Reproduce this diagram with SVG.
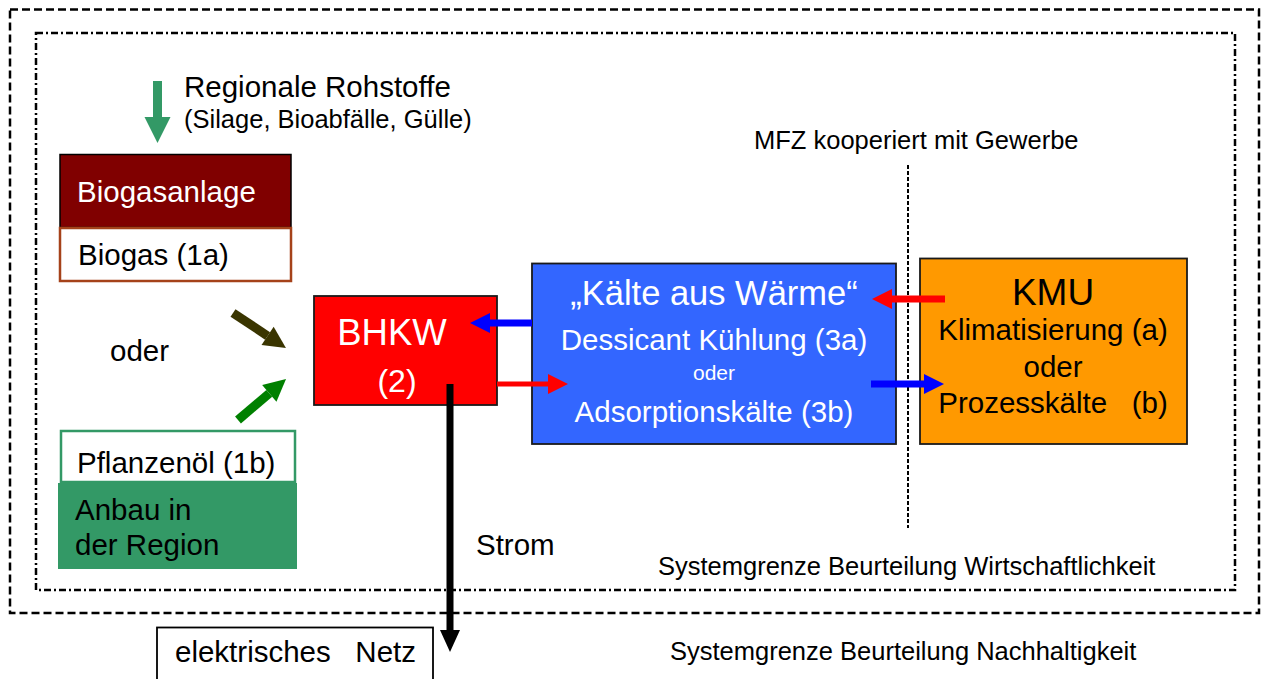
<svg xmlns="http://www.w3.org/2000/svg" width="1262" height="679" viewBox="0 0 1262 679">
  <style>
    text { font-family: "Liberation Sans", Arial, sans-serif; fill: #000; }
    .w { fill: #fff; }
    .t30 { font-size: 29.5px; }
    .t25 { font-size: 25.5px; }
    .mid { text-anchor: middle; }
    .frame { fill: none; stroke: #000; stroke-width: 2.5; }
    .box { stroke: #1a1a1a; stroke-width: 1.8; }
    .shaft { fill: none; stroke-linecap: butt; }
  </style>
  <defs>
    <marker id="head-blue" markerUnits="userSpaceOnUse" markerWidth="20" markerHeight="20" refX="0" refY="10" orient="auto" overflow="visible">
      <path d="M0,0 L20,10 L0,20 z" fill="#0000ff"/>
    </marker>
    <marker id="head-red" markerUnits="userSpaceOnUse" markerWidth="20" markerHeight="20" refX="0" refY="10" orient="auto" overflow="visible">
      <path d="M0,0 L20,10 L0,20 z" fill="#ff0000"/>
    </marker>
    <marker id="head-black" markerUnits="userSpaceOnUse" markerWidth="22" markerHeight="20" refX="0" refY="10" orient="auto" overflow="visible">
      <path d="M0,0 L22,10 L0,20 z" fill="#000"/>
    </marker>
    <marker id="head-olive" markerUnits="userSpaceOnUse" markerWidth="22" markerHeight="22" refX="0" refY="11" orient="auto" overflow="visible">
      <path d="M0,0 L22,11 L0,22 z" fill="#3a3500"/>
    </marker>
    <marker id="head-green" markerUnits="userSpaceOnUse" markerWidth="22" markerHeight="22" refX="0" refY="11" orient="auto" overflow="visible">
      <path d="M0,0 L22,11 L0,22 z" fill="#008000"/>
    </marker>
    <marker id="head-sea" markerUnits="userSpaceOnUse" markerWidth="26" markerHeight="26" refX="0" refY="13" orient="auto" overflow="visible">
      <path d="M0,0 L26,13 L0,26 z" fill="#339966"/>
    </marker>
  </defs>

  <rect width="1262" height="679" fill="#fff"/>

  <!-- system boundaries -->
  <g id="boundaries">
    <rect class="frame" x="10" y="9.5" width="1249" height="603.5" stroke-dasharray="8 4"/>
    <rect class="frame" x="36" y="33" width="1199" height="557" stroke-dasharray="7 3 2 3"/>
    <line x1="908" y1="165" x2="908" y2="528" stroke="#000" stroke-width="2" stroke-dasharray="4 2"/>
    <text class="t25" x="754" y="149">MFZ kooperiert mit Gewerbe</text>
    <text class="t25" x="658" y="575">Systemgrenze Beurteilung Wirtschaftlichkeit</text>
    <text class="t25" x="670" y="660">Systemgrenze Beurteilung Nachhaltigkeit</text>
  </g>

  <!-- raw materials -->
  <g id="rohstoffe">
    <text class="t30" x="184" y="97">Regionale Rohstoffe</text>
    <text class="t25" x="184" y="128">(Silage, Bioabfälle, Gülle)</text>
  </g>

  <g id="biogasanlage">
    <rect x="60" y="154.5" width="231" height="73" fill="#800000" stroke="#000" stroke-width="1.5"/>
    <text class="t30 w" x="77" y="202">Biogasanlage</text>
  </g>

  <g id="biogas">
    <rect x="60" y="228" width="231" height="53" fill="#fff" stroke="#a5421a" stroke-width="2.5"/>
    <text class="t30" x="78" y="265">Biogas (1a)</text>
  </g>

  <g id="oder-label">
    <text class="t30" x="110" y="361">oder</text>
  </g>

  <g id="pflanzenoel">
    <rect x="61" y="431" width="234" height="51" fill="#fff" stroke="#339966" stroke-width="2.5"/>
    <text class="t30" x="77" y="473">Pflanzenöl (1b)</text>
  </g>

  <g id="anbau">
    <rect x="58" y="483" width="239" height="86" fill="#339966"/>
    <text class="t30" x="75" y="520">Anbau in</text>
    <text class="t30" x="75" y="555">der Region</text>
  </g>

  <g id="bhkw">
    <rect class="box" x="314" y="296" width="183" height="109" fill="#ff0000"/>
    <text class="w mid" x="392" y="345" font-size="36.5">BHKW</text>
    <text class="w mid" x="397" y="392" font-size="32">(2)</text>
  </g>

  <g id="kaelte">
    <rect class="box" x="532" y="263.5" width="364" height="180.5" fill="#3366ff"/>
    <text class="w mid" x="714" y="305" font-size="34.5">„Kälte aus Wärme“</text>
    <text class="w mid t30" x="714" y="350">Dessicant Kühlung (3a)</text>
    <text class="w mid" x="714" y="380" font-size="21">oder</text>
    <text class="w mid t30" x="714" y="422">Adsorptionskälte (3b)</text>
  </g>

  <g id="kmu">
    <rect class="box" x="920" y="258.5" width="267" height="185.5" fill="#ff9900"/>
    <text class="mid" x="1053" y="305" font-size="37">KMU</text>
    <text class="mid t30" x="1053" y="340">Klimatisierung (a)</text>
    <text class="mid t30" x="1053" y="377">oder</text>
    <text class="mid t30" x="1053" y="413" xml:space="preserve">Prozesskälte   (b)</text>
  </g>

  <g id="netz">
    <rect x="157" y="627.5" width="276" height="60" fill="#fff" stroke="#000" stroke-width="1.8"/>
    <text class="t30" x="175" y="662" xml:space="preserve">elektrisches   Netz</text>
  </g>

  <g id="strom-label">
    <text class="t30" x="476" y="555">Strom</text>
  </g>

  <!-- connectors -->
  <g id="connectors">
    <line class="shaft" x1="157.5" y1="81" x2="157.5" y2="117" stroke="#339966" stroke-width="9" marker-end="url(#head-sea)"/>
    <line class="shaft" x1="233" y1="313" x2="267.6" y2="335.9" stroke="#3a3500" stroke-width="9" marker-end="url(#head-olive)"/>
    <line class="shaft" x1="238" y1="420" x2="269.3" y2="393.3" stroke="#008000" stroke-width="9" marker-end="url(#head-green)"/>
    <line class="shaft" x1="532" y1="323" x2="490" y2="323" stroke="#0000ff" stroke-width="7" marker-end="url(#head-blue)"/>
    <line class="shaft" x1="497" y1="384" x2="548" y2="384" stroke="#ff0000" stroke-width="5" marker-end="url(#head-red)"/>
    <line class="shaft" x1="945" y1="299" x2="892" y2="299" stroke="#ff0000" stroke-width="7" marker-end="url(#head-red)"/>
    <line class="shaft" x1="871" y1="384" x2="924" y2="384" stroke="#0000ff" stroke-width="7" marker-end="url(#head-blue)"/>
    <line class="shaft" x1="450" y1="384" x2="450" y2="630" stroke="#000" stroke-width="7" marker-end="url(#head-black)"/>
  </g>
</svg>
